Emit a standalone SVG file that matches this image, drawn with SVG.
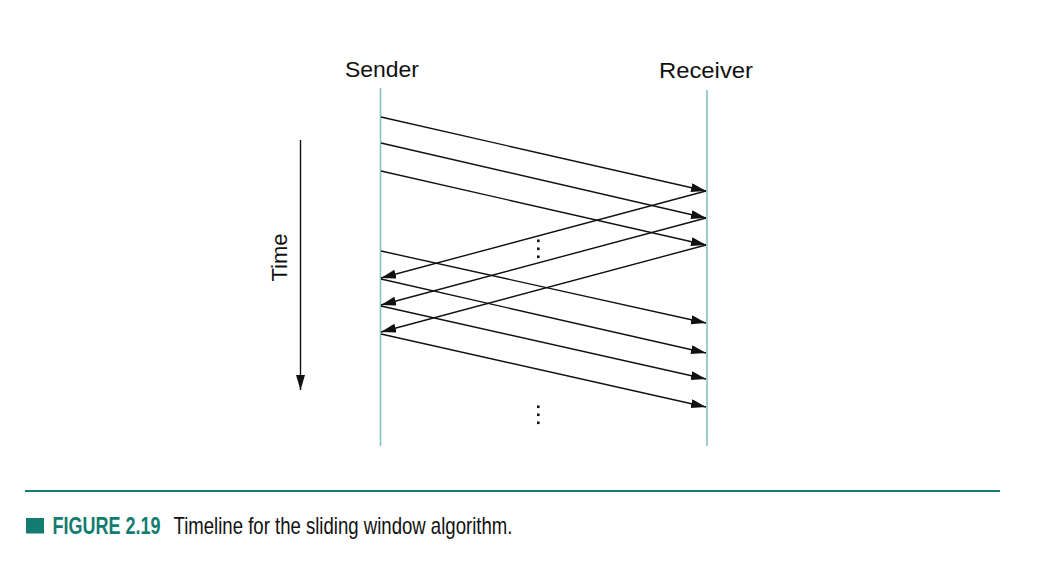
<svg xmlns="http://www.w3.org/2000/svg" width="1038" height="564" viewBox="0 0 1038 564">
<style>
.lbl{font-family:"Liberation Sans",Arial,sans-serif;font-size:22px;fill:#111;}
.life{stroke:#86c4bd;stroke-width:1.6;fill:none;}
.msg{stroke:#111;stroke-width:1.4;fill:none;marker-end:url(#ah);}
.dot{fill:#111;}
.cap{font-family:"Liberation Sans",Arial,sans-serif;font-size:23px;}
</style>
<defs>
<marker id="ah" markerUnits="userSpaceOnUse" markerWidth="16" markerHeight="10" refX="15" refY="4.5" orient="auto">
<path d="M0,0 L15,4.5 L0,9 z" fill="#111"/>
</marker>
</defs>
<rect width="1038" height="564" fill="#fff"/>
<g id="sender">
<text class="lbl" x="382" y="77" text-anchor="middle" textLength="74" lengthAdjust="spacingAndGlyphs">Sender</text>
<line class="life" x1="380.5" y1="88" x2="380.5" y2="446"/>
</g>
<g id="receiver">
<text class="lbl" x="706" y="78" text-anchor="middle" textLength="94" lengthAdjust="spacingAndGlyphs">Receiver</text>
<line class="life" x1="707" y1="90" x2="707" y2="446"/>
</g>
<g id="time">
<text class="lbl" transform="translate(287,257.5) rotate(-90)" text-anchor="middle">Time</text>
<line class="msg" x1="300.5" y1="140" x2="300.5" y2="390"/>
</g>
<g id="connectors">
<line class="msg" x1="381" y1="117" x2="706" y2="191"/>
<line class="msg" x1="381" y1="143" x2="706" y2="218"/>
<line class="msg" x1="381" y1="171" x2="706" y2="245"/>
<line class="msg" x1="706" y1="191" x2="381" y2="278"/>
<line class="msg" x1="706" y1="218" x2="381" y2="305"/>
<line class="msg" x1="706" y1="245" x2="381" y2="332"/>
<line class="msg" x1="381" y1="251" x2="706" y2="323"/>
<line class="msg" x1="381" y1="279" x2="706" y2="353"/>
<line class="msg" x1="381" y1="306" x2="706" y2="379"/>
<line class="msg" x1="381" y1="334" x2="706" y2="407"/>
</g>
<g id="dots">
<rect class="dot" x="537" y="239.5" width="2.6" height="2.6"/>
<rect class="dot" x="537" y="247.5" width="2.6" height="2.6"/>
<rect class="dot" x="537" y="255.5" width="2.6" height="2.6"/>
<rect class="dot" x="537" y="405.5" width="2.6" height="2.6"/>
<rect class="dot" x="537" y="413.5" width="2.6" height="2.6"/>
<rect class="dot" x="537" y="421.5" width="2.6" height="2.6"/>
</g>
<g id="caption">
<line x1="25" y1="491" x2="1000" y2="491" stroke="#127c70" stroke-width="2"/>
<rect x="26" y="518" width="18" height="15.5" fill="#127c70"/>
<text class="cap" transform="translate(52.5,533.5) scale(0.78,1)" x="0" y="0" font-weight="bold" fill="#127c70" textLength="138.5" lengthAdjust="spacingAndGlyphs">FIGURE 2.19</text>
<text class="cap" transform="translate(173.5,533.5) scale(0.79,1)" x="0" y="0" fill="#111" textLength="429" lengthAdjust="spacingAndGlyphs">Timeline for the sliding window algorithm.</text>
</g>
</svg>
